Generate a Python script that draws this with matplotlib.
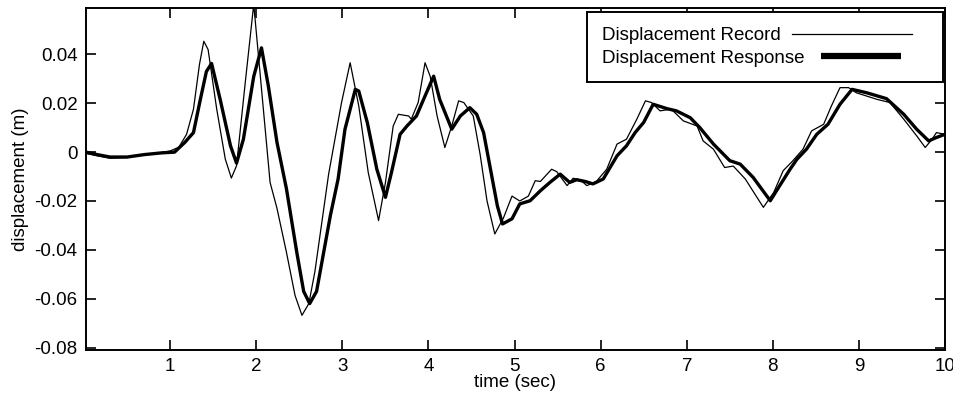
import numpy as np
import matplotlib
matplotlib.use("Agg")
import matplotlib.pyplot as plt

plt.rcParams['font.family'] = ['Liberation Sans', 'DejaVu Sans']

# valores (tempo em s, deslocamento em m)
t_registro = [0.02, 0.15, 0.3, 0.5, 0.7, 0.85, 1.0, 1.1, 1.19, 1.27, 1.34, 1.39, 1.44,
              1.54, 1.64, 1.71, 1.77, 1.87, 1.97, 2.16, 2.24, 2.35, 2.45, 2.53, 2.61,
              2.68, 2.84, 2.99, 3.09, 3.19, 3.30, 3.42, 3.50, 3.59, 3.65, 3.77, 3.80,
              3.88, 3.96, 4.02, 4.10, 4.19, 4.27, 4.35, 4.41, 4.52, 4.60, 4.68, 4.77,
              4.87, 4.97, 5.06, 5.16, 5.24, 5.30, 5.43, 5.49, 5.61, 5.68, 5.76, 5.84,
              5.95, 6.07, 6.19, 6.30, 6.42, 6.52, 6.59, 6.69, 6.82, 6.96, 7.12, 7.19,
              7.31, 7.44, 7.54, 7.68, 7.79, 7.89, 8.01, 8.12, 8.22, 8.35, 8.45, 8.59,
              8.68, 8.78, 8.88, 8.97, 9.21, 9.36, 9.52, 9.67, 9.77, 9.85, 9.90, 10.0]
d_registro = [-0.0005, -0.0015, -0.0025, -0.0022, -0.001, -0.0005, 0.0005, 0.002, 0.0073,
              0.0176, 0.036, 0.0454, 0.042, 0.0176, -0.0029, -0.0106, -0.0056, 0.028,
              0.0605, -0.0124, -0.023, -0.041, -0.0587, -0.0668, -0.062, -0.049, -0.009,
              0.0203, 0.0366, 0.0189, -0.0083, -0.028, -0.0124, 0.0107, 0.0155, 0.0148,
              0.0135, 0.0203, 0.0366, 0.031, 0.0148, 0.0019, 0.0107, 0.021, 0.0203,
              0.0148, -0.001, -0.02, -0.0335, -0.027, -0.018, -0.020, -0.018, -0.0117,
              -0.012, -0.007, -0.008, -0.0137, -0.0107, -0.0113, -0.0137, -0.012, -0.007,
              0.0033, 0.0053, 0.0135, 0.021, 0.0203, 0.0169, 0.0176, 0.0128, 0.0107,
              0.0046, 0.0012, -0.0063, -0.0057, -0.011, -0.0171, -0.0226, -0.0165,
              -0.0076, -0.004, 0.0012, 0.0087, 0.0114, 0.0189, 0.0264, 0.0264, 0.0243,
              0.0216, 0.0203, 0.0135, 0.0067, 0.0019, 0.0053, 0.008, 0.0073]

t_resposta = [0.02, 0.15, 0.3, 0.5, 0.7, 0.9, 1.05, 1.17, 1.27, 1.35, 1.42, 1.48, 1.58,
              1.70, 1.77, 1.85, 1.97, 2.06, 2.14, 2.24, 2.35, 2.47, 2.55, 2.62, 2.70,
              2.86, 2.95, 3.03, 3.15, 3.19, 3.29, 3.40, 3.50, 3.57, 3.67, 3.75, 3.86,
              3.96, 4.06, 4.13, 4.27, 4.37, 4.48, 4.56, 4.64, 4.72, 4.80, 4.86, 4.97,
              5.06, 5.18, 5.30, 5.41, 5.53, 5.64, 5.72, 5.82, 5.91, 6.03, 6.19, 6.30,
              6.40, 6.50, 6.61, 6.77, 6.88, 7.04, 7.15, 7.31, 7.50, 7.62, 7.77, 7.97,
              8.08, 8.20, 8.28, 8.39, 8.51, 8.64, 8.78, 8.92, 9.09, 9.32, 9.52, 9.67,
              9.81, 9.90, 10.0]
d_resposta = [0.0, -0.001, -0.002, -0.002, -0.001, -0.0003, 0.0, 0.004, 0.008, 0.0216,
              0.033, 0.0363, 0.0216, 0.0026, -0.0045, 0.0053, 0.031, 0.0427, 0.027, 0.004,
              -0.015, -0.041, -0.057, -0.062, -0.057, -0.026, -0.011, 0.0094, 0.0257,
              0.025, 0.012, -0.007, -0.0185, -0.0083, 0.0073, 0.0107, 0.0148, 0.023,
              0.0311, 0.0216, 0.0094, 0.0148, 0.0182, 0.0155, 0.008, -0.007, -0.022,
              -0.0294, -0.0273, -0.0212, -0.0199, -0.0158, -0.0124, -0.009, -0.0124,
              -0.0113, -0.012, -0.013, -0.011, -0.0015, 0.0026, 0.008, 0.0122, 0.0196,
              0.0178, 0.0169, 0.0141, 0.0101, 0.0033, -0.0035, -0.0049, -0.0103, -0.0199,
              -0.0137, -0.007, -0.0029, 0.0012, 0.0073, 0.0114, 0.0196, 0.0257, 0.0243,
              0.0219, 0.0155, 0.0094, 0.0046, 0.006, 0.0073]

xticks = [1, 2, 3, 4, 5, 6, 7, 8, 9, 10]
yticks = [-0.08, -0.06, -0.04, -0.02, 0, 0.02, 0.04]
ylabels_txt = ['-0.08', '-0.06', '-0.04', '-0.02', '0', '0.02', '0.04']

fig = plt.figure(figsize=(9.54, 3.97), dpi=100)
ax = fig.add_axes([0.090, 0.1184, 0.9006, 0.8614])

ax.plot(t_registro, d_registro, color='black', linewidth=0.9, label='Displacement Record')
ax.plot(t_resposta, d_resposta, color='black', linewidth=2.4, label='Displacement Response')

ax.set_xlim(0.02, 10)
ax.set_ylim(-0.081, 0.059)
ax.set_xticks(xticks)
ax.set_xticklabels([str(x) for x in xticks])
ax.set_yticks(yticks)
ax.set_yticklabels(ylabels_txt)
ax.tick_params(direction='in', top=True, right=True, length=7, width=1.2,
               labelsize=13.5, pad=6)
for s in ax.spines.values():
    s.set_linewidth(1.4)

ax.set_xlabel('time (sec)', fontsize=13.5, labelpad=-1)
ax.set_ylabel('displacement (m)', fontsize=13.5, labelpad=4)

# legenda estilo matlab: texto a esquerda, linha a direita
leg = ax.legend(loc='upper right', bbox_to_anchor=(0.998, 0.988), borderaxespad=0,
                markerfirst=False, fancybox=False, framealpha=1, edgecolor='black',
                fontsize=13.5, handlelength=6.0, labelspacing=0.3, borderpad=0.8,
                handletextpad=0.6)
leg.get_frame().set_linewidth(1.4)
for col in leg._legend_handle_box.get_children():
    col.align = 'left'
l_reg, l_resp = leg.get_lines()
xd = np.asarray(l_reg.get_xdata(), dtype=float)
l_reg.set_xdata(np.linspace(xd[0], xd[-1] + 5, len(xd)))
xd = np.asarray(l_resp.get_xdata(), dtype=float)
l_resp.set_xdata(np.linspace(xd[0] + 4, xd[-1] - 20, len(xd)))
l_resp.set_linewidth(4.5)
l_resp.set_solid_capstyle('butt')

fig.savefig('out.png', dpi=100)
